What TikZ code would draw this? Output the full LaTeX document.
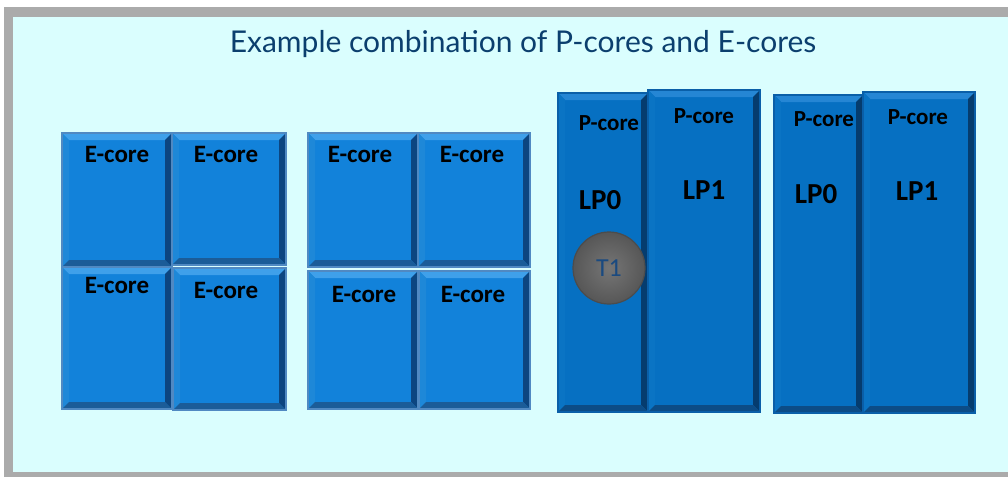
\documentclass[tikz,border=0pt]{standalone}
\usepackage{fontspec}
\setmainfont{Carlito}
\newfontfamily\titlefont{Lato}
\usetikzlibrary{positioning,calc}

\definecolor{bgcyan}{HTML}{DAFEFE}
\definecolor{framegray}{HTML}{ABABAB}
\definecolor{titleblue}{HTML}{0B3F6E}
\definecolor{eface}{HTML}{1282DA}
\definecolor{etop}{HTML}{3FA0EA}
\definecolor{eleft}{HTML}{1E88D8}
\definecolor{eright}{HTML}{0C4580}
\definecolor{ebottom}{HTML}{1B5C98}
\definecolor{eedge}{HTML}{5089C2}
\definecolor{pface}{HTML}{0670C2}
\definecolor{ptop}{HTML}{2586D4}
\definecolor{pleft}{HTML}{0A74C4}
\definecolor{pright}{HTML}{053C6E}
\definecolor{pbottom}{HTML}{0C4C86}
\definecolor{pedge}{HTML}{0A5FA8}
\definecolor{tblue}{HTML}{1A4A80}

\tikzset{
  bevel/.style n args={4}{path picture={
    \path (path picture bounding box.north west) coordinate (bnw)
          (path picture bounding box.south east) coordinate (bse);
    \coordinate (bne) at (bse|-bnw);
    \coordinate (bsw) at (bnw|-bse);
    \fill[#1] (bnw) -- (bne) -- ($(bne)+(-7,7)$) -- ($(bnw)+(7,7)$) -- cycle;
    \fill[#2] (bnw) -- ($(bnw)+(7,7)$) -- ($(bsw)+(7,-7)$) -- (bsw) -- cycle;
    \fill[#3] (bne) -- (bse) -- ($(bse)+(-7,-7)$) -- ($(bne)+(-7,7)$) -- cycle;
    \fill[#4] (bsw) -- (bse) -- ($(bse)+(-7,-7)$) -- ($(bsw)+(7,-7)$) -- cycle;
  }},
  core/.style={rectangle, anchor=north west, inner sep=0pt, outer sep=0pt, line width=1.4pt},
  ecore/.style={core, fill=eface, draw=eedge, bevel={etop}{eleft}{eright}{ebottom}},
  pcore/.style={core, fill=pface, draw=pedge, bevel={ptop}{pleft}{pright}{pbottom}},
  elbl/.style={anchor=base, inner sep=0pt, font=\bfseries\fontsize{25}{25}\selectfont},
  plbl/.style={anchor=base, inner sep=0pt, font=\bfseries\fontsize{23}{23}\selectfont},
  lplbl/.style={anchor=base, inner sep=0pt, font=\bfseries\fontsize{29}{29}\selectfont},
}

\begin{document}
\begin{tikzpicture}[x=1pt, y=-1pt]
  \useasboundingbox (0,0) rectangle (1008,479);
  % frame
  \fill[framegray] (4,7) rectangle (1008,477);
  \fill[bgcyan] (13,17) rectangle (1008,472);

  \node[anchor=base, text=titleblue, font=\titlefont\fontsize{30}{30}\selectfont] (title) at (523,52)
    {Example combination of P-cores and E-cores};

  % E-cores, first group
  \node[ecore, minimum width=110, minimum height=134] (e1) at (62,133) {};
  \node[ecore, minimum width=114, minimum height=132] (e2) at (172,133) {};
  \node[ecore, minimum width=110, minimum height=142] (e3) at (62,267) {};
  \node[ecore, minimum width=113, minimum height=142] (e4) at (173,268) {};
  % E-cores, second group
  \node[ecore, minimum width=110, minimum height=134] (e5) at (308,133) {};
  \node[ecore, minimum width=112, minimum height=134] (e6) at (418,133) {};
  \node[ecore, minimum width=110, minimum height=138] (e7) at (308,271) {};
  \node[ecore, minimum width=111, minimum height=138] (e8) at (419,271) {};

  \node[elbl] (e1lbl) at (117,162) {E-core};
  \node[elbl] (e2lbl) at (226,162) {E-core};
  \node[elbl] (e3lbl) at (117,293) {E-core};
  \node[elbl] (e4lbl) at (226,298) {E-core};
  \node[elbl] (e5lbl) at (360,162) {E-core};
  \node[elbl] (e6lbl) at (472,162) {E-core};
  \node[elbl] (e7lbl) at (364,302) {E-core};
  \node[elbl] (e8lbl) at (473,302) {E-core};

  % P-cores
  \node[pcore, minimum width=90, minimum height=319] (p1) at (558,93) {};
  \node[pcore, minimum width=112, minimum height=322] (p2) at (648,90) {};
  \node[pcore, minimum width=89, minimum height=318] (p3) at (774,95) {};
  \node[pcore, minimum width=112, minimum height=321] (p4) at (863,92) {};

  \node[plbl] (p1lbl) at (609,130) {P-core};
  \node[plbl] (p2lbl) at (704,123) {P-core};
  \node[plbl] (p3lbl) at (824,126) {P-core};
  \node[plbl] (p4lbl) at (918,124) {P-core};

  \node[lplbl] (p1lp) at (600,209) {LP0};
  \node[lplbl] (p2lp) at (704,199) {LP1};
  \node[lplbl] (p3lp) at (816,203) {LP0};
  \node[lplbl] (p4lp) at (917,200) {LP1};

  % thread
  \node[circle, minimum size=72, inner sep=0pt, draw=black!70, line width=1.2pt,
        inner color=black!54, outer color=black!66, text=tblue,
        font=\fontsize{26}{26}\selectfont] (t1) at (609,268) {T1};
\end{tikzpicture}
\end{document}
